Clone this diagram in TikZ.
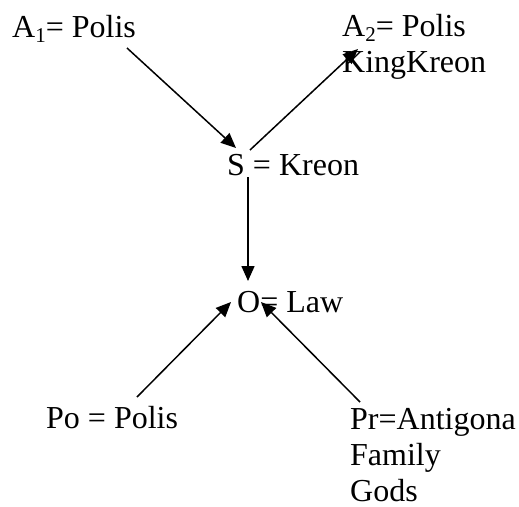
\documentclass[tikz,border=0pt]{standalone}
\usepackage{fontspec}
\setmainfont{Liberation Serif}
\usetikzlibrary{arrows.meta}
\newcommand\subidx[1]{\raisebox{-0.16em}{\fontsize{21}{21}\selectfont #1}}
\begin{document}
\begin{tikzpicture}[x=1pt,y=-1pt,
  lbl/.style={anchor=base west,inner sep=0pt,align=left,font=\fontsize{32}{36}\selectfont},
  link/.style={line width=1.5pt,-{Triangle[length=15pt,width=13pt]}}]
\useasboundingbox (0,0) rectangle (519,506);

% actants (multi-line labels are placed by the baseline of their last line)
\node[lbl] (a1) at (12,37) {A\subidx{1}= Polis};
\node[lbl] (a2) at (342,72) {A\subidx{2}= Polis\\KingKreon};
\node[lbl] (s)  at (227,175) {S = Kreon};
\node[lbl] (o)  at (237,312) {O= Law};
\node[lbl] (po) at (46,428) {Po = Polis};
\node[lbl] (pr) at (350,501) {Pr=Antigona\\Family\\Gods};

% connector ends
\coordinate (a1out) at (127,48);
\coordinate (sin)   at (236,148);
\coordinate (sout)  at (250,150);
\coordinate (a2in)  at (358,49);
\coordinate (sdown) at (248,177);
\coordinate (otop)  at (248,281);
\coordinate (poout) at (137,397);
\coordinate (oleft) at (231,302);
\coordinate (prout) at (360,402);
\coordinate (oright) at (261,302);

\draw[link] (a1out) -- (sin);
\draw[link] (sout) -- (a2in);
\draw[link] (sdown) -- (otop);
\draw[link] (poout) -- (oleft);
\draw[link] (prout) -- (oright);
\end{tikzpicture}
\end{document}
